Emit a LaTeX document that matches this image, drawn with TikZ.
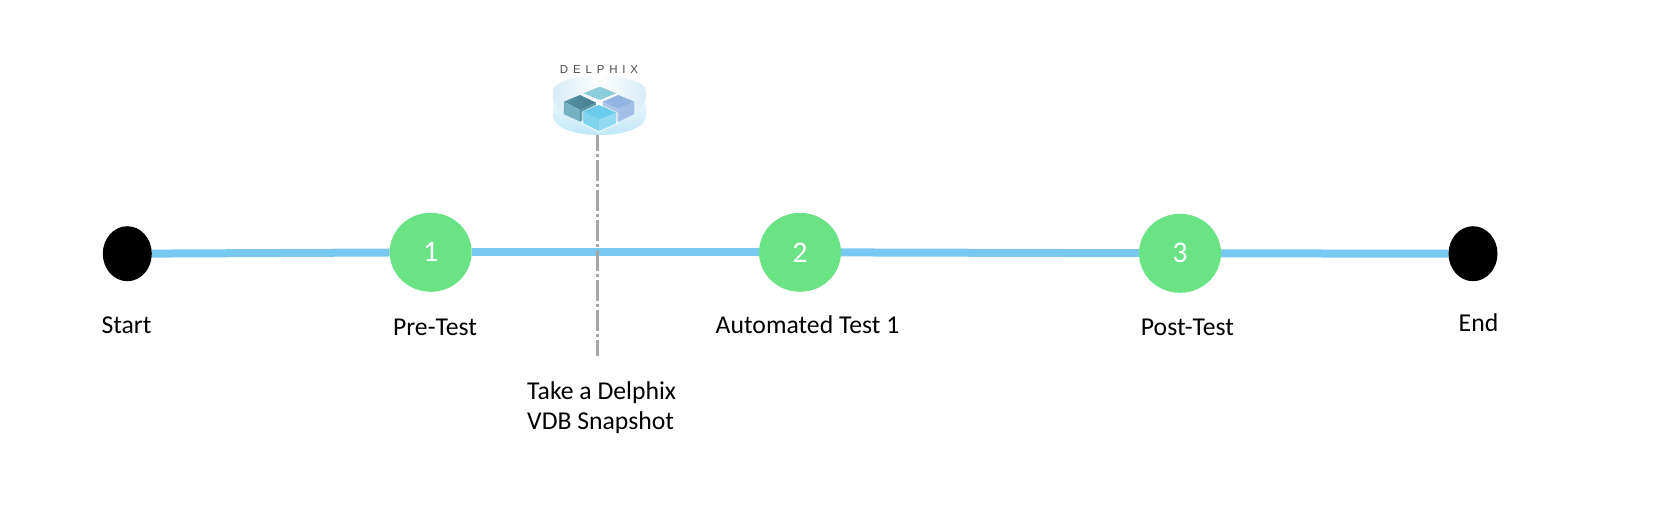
\documentclass[tikz,border=0pt]{standalone}
\usepackage{fontspec}
\setmainfont{Carlito}
\newfontfamily\logofont[LetterSpace=42]{Liberation Sans}
\usetikzlibrary{shapes.geometric,backgrounds}
\definecolor{linkblue}{HTML}{78C9F2}
\definecolor{stepgreen}{HTML}{69E384}
\definecolor{guidegray}{HTML}{A6A6A6}
\definecolor{discedge}{HTML}{D9ECF7}
\definecolor{discbottom}{HTML}{BFE8F6}
\tikzset{
  endpoint/.style={ellipse,fill=black,inner sep=0pt,outer sep=0pt,minimum width=49pt,minimum height=55pt},
  stepcircle/.style={ellipse,fill=stepgreen,text=white,inner sep=0pt,outer sep=0pt,minimum width=82pt,minimum height=79pt,font=\fontsize{30}{32}\selectfont},
  caption/.style={anchor=base,inner sep=0pt,font=\fontsize{25.7}{30}\selectfont},
  link/.style={draw=linkblue,line width=8pt},
  guide/.style={draw=guidegray,line width=3pt,dash pattern=on 21pt off 3pt on 3pt off 3pt,dash phase=5.5pt}
}
\begin{document}
\begin{tikzpicture}[x=1pt,y=-1pt]
\useasboundingbox (0,0) rectangle (1662,520);
% nodes
\node[endpoint] (start) at (127.3,253.7) {};
\node[stepcircle] (n1) at (430.7,252.3) {1};
\node[stepcircle] (n2) at (800,252.3) {2};
\node[stepcircle] (n3) at (1180,253.3) {3};
\node[endpoint] (end) at (1473,253.7) {};
% links
\begin{scope}[on background layer]
\fill[white] (0,0) rectangle (1662,520);
\draw[link] (start) -- (n1);
\draw[link] (n1) -- (n2);
\draw[link] (n2) -- (n3);
\draw[link] (n3) -- (end);
\end{scope}
% captions
\node[caption] (lstart) at (126.5,333) {Start};
\node[caption] (l1) at (435,335.5) {Pre-Test};
\node[caption] (l2) at (807.5,333) {Automated Test 1};
\node[caption] (l3) at (1187.5,335) {Post-Test};
\node[caption] (lend) at (1478.5,331) {End};
\node[anchor=north west,inner sep=0pt,align=left,font=\fontsize{25.7}{30}\selectfont] (snap) at (527,381) {Take a Delphix\\VDB Snapshot};
% guide
\coordinate (gtop) at (597,135);
\coordinate (gbot) at (597,356);
\draw[guide] (gtop) -- (gbot);
% Delphix logo: disc
\shade[left color=discedge,right color=discedge,middle color=white]
  (553.5,90) .. controls (553.5,82) and (574,76) .. (599.5,76)
  .. controls (625,76) and (645.5,82) .. (645.5,90)
  -- (645.5,117) .. controls (645.5,127) and (625,135) .. (599.5,135)
  .. controls (574,135) and (553.5,127) .. (553.5,117) -- cycle;
\shade[top color=discedge!40!white,bottom color=discbottom]
  (553.5,98) .. controls (553.5,110) and (574,120) .. (599.5,120)
  .. controls (625,120) and (645.5,110) .. (645.5,98)
  -- (645.5,117) .. controls (645.5,127) and (625,135) .. (599.5,135)
  .. controls (574,135) and (553.5,127) .. (553.5,117) -- cycle;
% cubes (coordinates as in a 3x enlargement of the logo)
\begin{scope}[shift={(490,40)},x=0.3333pt,y=-0.3333pt]
% back cube
\fill[color={rgb,255:red,140;green,205;blue,220}] (280,160) -- (330,140) -- (378,160) -- (330,180) -- cycle;
% dark left cube
\shade[left color={rgb,255:red,86;green,146;blue,163},right color={rgb,255:red,70;green,125;blue,145}] (222,185) -- (270,165) -- (318,188) -- (270,210) -- cycle;
\fill[color={rgb,255:red,118;green,177;blue,193}] (222,185) -- (270,210) -- (270,245) -- (221,222) -- cycle;
\fill[color={rgb,255:red,85;green,150;blue,168}] (270,210) -- (318,188) -- (318,225) -- (270,245) -- cycle;
% right cube
\fill[color={rgb,255:red,146;green,180;blue,224}] (338,185) -- (385,165) -- (433,185) -- (385,207) -- cycle;
\fill[color={rgb,255:red,166;green,196;blue,232}] (338,185) -- (385,207) -- (385,245) -- (338,222) -- cycle;
\fill[color={rgb,255:red,160;green,190;blue,230}] (385,207) -- (433,185) -- (433,222) -- (385,245) -- cycle;
% front cube
\fill[white,opacity=.6] (275,215) -- (327,190) -- (383,218) -- (383,252) -- (327,278) -- (275,252) -- cycle;
\fill[color={rgb,255:red,108;green,204;blue,236}] (280,215) -- (327,195) -- (378,218) -- (327,240) -- cycle;
\fill[color={rgb,255:red,128;green,212;blue,238}] (280,215) -- (327,240) -- (327,273) -- (280,250) -- cycle;
\fill[color={rgb,255:red,144;green,218;blue,242}] (327,240) -- (378,218) -- (378,250) -- (327,273) -- cycle;
\end{scope}
% logo word
\node[inner sep=0pt,text=black!70,font=\logofont\fontsize{11.5}{13}\selectfont] (logo) at (599,70) {DELPHIX};
\end{tikzpicture}
\end{document}
